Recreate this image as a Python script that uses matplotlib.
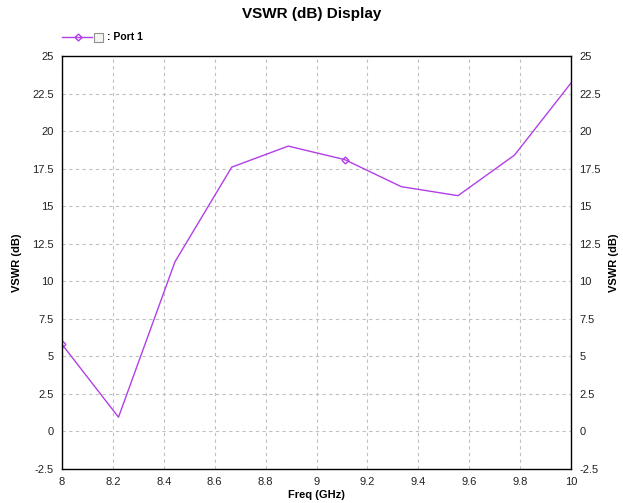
import matplotlib
matplotlib.use("Agg")
import matplotlib.pyplot as plt
from matplotlib.lines import Line2D
from matplotlib.patches import Rectangle

plt.rcParams['font.family'] = ['Liberation Sans', 'DejaVu Sans']

freq = [8.0, 8.222, 8.444, 8.667, 8.889, 9.111, 9.333, 9.556, 9.778, 10.0]
vswr_db = [5.8, 0.95, 11.3, 17.6, 19.0, 18.1, 16.3, 15.7, 18.4, 23.2]
marker_idx = [0, 5]
x_ticks = [8, 8.2, 8.4, 8.6, 8.8, 9, 9.2, 9.4, 9.6, 9.8, 10]
y_ticks = [-2.5, 0, 2.5, 5, 7.5, 10, 12.5, 15, 17.5, 20, 22.5, 25]

color = '#B23FE8'

fig = plt.figure(figsize=(6.23, 5.03), dpi=100)
W, H = 623, 503
ax = fig.add_axes([62 / W, 1 - 469 / H, (571 - 62) / W, (469 - 56) / H])

ax.plot(freq, vswr_db, color=color, lw=1.0, marker='D', markersize=3.5,
        markerfacecolor='none', markeredgecolor=color, markevery=marker_idx)

ax.set_xlim(8, 10)
ax.set_ylim(-2.5, 25)
ax.set_xticks(x_ticks)
ax.set_xticklabels([f"{t:g}" for t in x_ticks])
ax.set_yticks(y_ticks)
ax.set_yticklabels([f"{t:g}" for t in y_ticks])
ax.tick_params(axis='both', length=0, labelsize=8, colors='#222222', pad=6)
ax.tick_params(axis='y', right=True, labelright=True)
ax.grid(True, linestyle=(0, (3, 3)), color='#c0c0c0', lw=0.8)
for s in ax.spines.values():
    s.set_color('black')
    s.set_linewidth(1.0)

ax.set_xlabel('Freq (GHz)', fontsize=8, fontweight='bold', labelpad=2)
ax.set_ylabel('VSWR (dB)', fontsize=8, fontweight='bold', labelpad=7)
ax2 = ax.secondary_yaxis('right')
ax2.set_yticks([])
ax2.spines['right'].set_visible(False)
ax2.set_ylabel('VSWR (dB)', fontsize=8, fontweight='bold', labelpad=27)

fig.text(0.5, 1 - 14 / H, 'VSWR (dB) Display', ha='center', va='center',
         fontsize=11, fontweight='bold')

# legend
ly = 1 - 37 / H
fig.add_artist(Line2D([62 / W, 92 / W], [ly, ly], color=color, lw=1.0,
                      transform=fig.transFigure))
fig.add_artist(Line2D([78 / W], [ly], color=color, marker='D', markersize=3.5,
                      markerfacecolor='none', markeredgecolor=color,
                      transform=fig.transFigure))
fig.add_artist(Rectangle((94 / W, 1 - 42 / H), 9 / W, 9 / H, facecolor='#f4f4f0',
                         edgecolor='#909090', lw=0.8, transform=fig.transFigure))
fig.text(107 / W, ly, ': Port 1', ha='left', va='center', fontsize=7.5,
         fontweight='bold')

fig.savefig('out.png', dpi=100)
